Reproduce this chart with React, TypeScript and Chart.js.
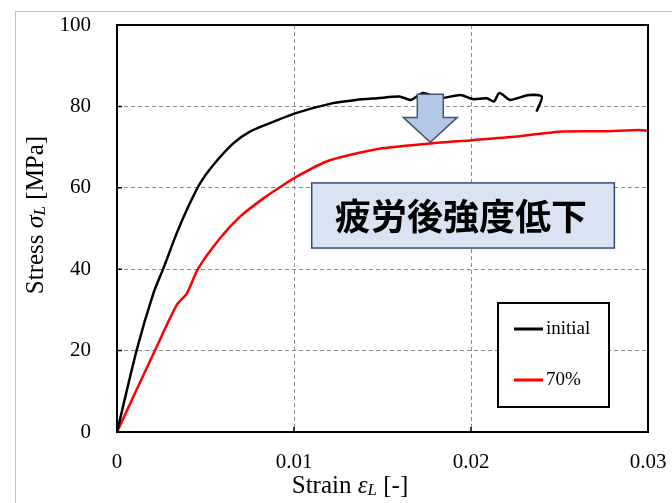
import React, { useEffect, useRef } from "react";
import { Chart, registerables } from "chart.js";

Chart.register(...registerables);

const initialStrain = [0, 0.00111, 0.00205, 0.00262, 0.00337, 0.00403, 0.00469, 0.00544, 0.00657, 0.00751, 0.00883, 0.01006, 0.0122, 0.0135, 0.0147, 0.016, 0.0166, 0.0173, 0.0182, 0.0194, 0.0201, 0.0209, 0.0213, 0.0216, 0.0222, 0.0226, 0.0233, 0.024, 0.0237];
const initialStress = [0, 20.1, 34, 40.2, 48.8, 55.4, 61.1, 65.6, 70.9, 73.8, 76.2, 78.3, 80.8, 81.6, 82, 82.4, 81.6, 83.3, 82, 82.8, 81.8, 82, 81.2, 83.3, 81.6, 82, 82.8, 82.4, 78.7];

const fatigueStrain = [0, 0.00215, 0.00337, 0.00394, 0.00459, 0.00582, 0.00695, 0.00827, 0.0094, 0.0103, 0.0118, 0.0132, 0.015, 0.0177, 0.0201, 0.0226, 0.025, 0.0275, 0.0295, 0.03];
const fatigueStress = [0, 20.1, 31.2, 34, 40.2, 47.6, 52.9, 57.4, 60.7, 63.1, 66.4, 68.1, 69.7, 70.9, 71.7, 72.6, 73.8, 73.9, 74.2, 74];

const seriesNames = ["initial", "70%"];
const seriesColors = ["#000000", "#ff0000"];
const xTickValues = [0, 0.01, 0.02, 0.03];
const yTickValues = [0, 20, 40, 60, 80, 100];
const annotationText = "疲労後強度低下";
const arrowStrain = 0.0177;

const SERIF = '"Liberation Serif", "Times New Roman", serif';

function drawRich(ctx: CanvasRenderingContext2D, parts: { t: string; f: string; dy: number }[], cx: number, cy: number) {
  let total = 0;
  for (const p of parts) {
    ctx.font = p.f;
    total += ctx.measureText(p.t).width;
  }
  let x = cx - total / 2;
  ctx.textBaseline = "middle";
  ctx.textAlign = "left";
  for (const p of parts) {
    ctx.font = p.f;
    ctx.fillText(p.t, x, cy + p.dy);
    x += ctx.measureText(p.t).width;
  }
}

const decorPlugin = {
  id: "decor",
  beforeDraw(chart: any) {
    const ctx = chart.ctx;
    ctx.save();
    ctx.fillStyle = "#ffffff";
    ctx.fillRect(0, 0, chart.width, chart.height);
    ctx.strokeStyle = "#bfbfbf";
    ctx.lineWidth = 1;
    ctx.strokeRect(15.5, 11.5, chart.width + 20, chart.height + 20);
    ctx.restore();
  },
  afterDatasetsDraw(chart: any) {
    const ctx = chart.ctx;
    const a = chart.chartArea;
    const xs = chart.scales.x;
    const ys = chart.scales.y;
    ctx.save();
    // plot border
    ctx.strokeStyle = "#000";
    ctx.lineWidth = 2;
    ctx.strokeRect(a.left, a.top, a.right - a.left, a.bottom - a.top);
    // inside ticks
    ctx.lineWidth = 1.5;
    ctx.beginPath();
    for (const v of xTickValues) {
      const px = xs.getPixelForValue(v);
      ctx.moveTo(px, a.bottom);
      ctx.lineTo(px, a.bottom - 5);
    }
    for (const v of yTickValues) {
      const py = ys.getPixelForValue(v);
      ctx.moveTo(a.left, py);
      ctx.lineTo(a.left + 5, py);
    }
    ctx.stroke();

    // arrow
    const ax = xs.getPixelForValue(arrowStrain);
    const top = ys.getPixelForValue(83);
    const headY = ys.getPixelForValue(77.3);
    const tip = ys.getPixelForValue(71.2);
    ctx.beginPath();
    ctx.moveTo(ax - 13, top);
    ctx.lineTo(ax + 13, top);
    ctx.lineTo(ax + 13, headY);
    ctx.lineTo(ax + 27, headY);
    ctx.lineTo(ax, tip);
    ctx.lineTo(ax - 27, headY);
    ctx.lineTo(ax - 13, headY);
    ctx.closePath();
    ctx.fillStyle = "#b4c7e7";
    ctx.fill();
    ctx.strokeStyle = "#44546a";
    ctx.lineWidth = 1.5;
    ctx.stroke();

    // annotation box
    const bx1 = xs.getPixelForValue(0.011);
    const bx2 = xs.getPixelForValue(0.0281);
    const by1 = ys.getPixelForValue(61.2);
    const by2 = ys.getPixelForValue(45.2);
    ctx.fillStyle = "#dae3f3";
    ctx.fillRect(bx1, by1, bx2 - bx1, by2 - by1);
    ctx.strokeStyle = "#2f4b7c";
    ctx.lineWidth = 1.5;
    ctx.strokeRect(bx1, by1, bx2 - bx1, by2 - by1);
    ctx.fillStyle = "#000";
    ctx.font = 'bold 36px "Noto Sans CJK JP", sans-serif';
    ctx.textAlign = "center";
    ctx.textBaseline = "middle";
    ctx.fillText(annotationText, (bx1 + bx2) / 2 - 2, (by1 + by2) / 2 + 1);

    // legend
    const lx1 = 498, ly1 = 303, lx2 = 609, ly2 = 407;
    ctx.fillStyle = "#fff";
    ctx.fillRect(lx1, ly1, lx2 - lx1, ly2 - ly1);
    ctx.strokeStyle = "#000";
    ctx.lineWidth = 2;
    ctx.strokeRect(lx1, ly1, lx2 - lx1, ly2 - ly1);
    const rows = [329, 380];
    seriesNames.forEach((name, i) => {
      ctx.strokeStyle = seriesColors[i];
      ctx.lineWidth = 3;
      ctx.beginPath();
      ctx.moveTo(514, rows[i]);
      ctx.lineTo(543, rows[i]);
      ctx.stroke();
      ctx.fillStyle = "#000";
      ctx.font = `19px ${SERIF}`;
      ctx.textAlign = "left";
      ctx.textBaseline = "middle";
      ctx.fillText(name, 546, rows[i]);
    });

    // axis titles
    ctx.fillStyle = "#000";
    drawRich(ctx, [
      { t: "Strain ", f: `25px ${SERIF}`, dy: 0 },
      { t: "ε", f: `italic 25px ${SERIF}`, dy: 0 },
      { t: "L", f: `italic 17px ${SERIF}`, dy: 5 },
      { t: " [-]", f: `25px ${SERIF}`, dy: 0 },
    ], 350, 486);
    ctx.save();
    ctx.translate(36, 215);
    ctx.rotate(-Math.PI / 2);
    drawRich(ctx, [
      { t: "Stress ", f: `25px ${SERIF}`, dy: 0 },
      { t: "σ", f: `italic 26px ${SERIF}`, dy: 0 },
      { t: "L", f: `italic 17px ${SERIF}`, dy: 5 },
      { t: " [MPa]", f: `25px ${SERIF}`, dy: 0 },
    ], 0, 0);
    ctx.restore();
    ctx.restore();
  },
};

export default function App() {
  const ref = useRef<HTMLCanvasElement>(null);
  useEffect(() => {
    document.body.style.margin = "0";
    const canvas = ref.current!;
    const chart = new Chart(canvas, {
      type: "scatter",
      data: {
        datasets: [
          {
            label: seriesNames[0],
            data: initialStrain.map((x, i) => ({ x, y: initialStress[i] })),
            showLine: true,
            borderColor: seriesColors[0],
            borderWidth: 2.5,
            pointRadius: 0,
            tension: 0.25,
          },
          {
            label: seriesNames[1],
            data: fatigueStrain.map((x, i) => ({ x, y: fatigueStress[i] })),
            showLine: true,
            borderColor: seriesColors[1],
            borderWidth: 2.5,
            pointRadius: 0,
            tension: 0.25,
          },
        ],
      },
      options: {
        responsive: false,
        animation: false,
        layout: { padding: { left: 0, right: 24, top: 25, bottom: 0 } },
        plugins: { legend: { display: false }, tooltip: { enabled: false } },
        scales: {
          x: {
            type: "linear",
            min: 0,
            max: 0.03,
            afterFit: (s: any) => {
              s.height = 71;
              s.paddingLeft = 0;
              s.paddingRight = 0;
            },
            afterBuildTicks: (s: any) => { s.ticks = xTickValues.map((v) => ({ value: v })); },
            border: { display: false, dash: [4, 3] },
            grid: { color: "#8c8c8c", lineWidth: 1, drawTicks: false },
            ticks: {
              autoSkip: false,
              maxRotation: 0,
              padding: 18,
              color: "#000",
              font: { family: SERIF, size: 21 },
              callback: (v: any) => String(parseFloat(Number(v).toFixed(4))),
            },
          },
          y: {
            type: "linear",
            min: 0,
            max: 100,
            afterFit: (s: any) => {
              s.width = 117;
              s.paddingTop = 0;
              s.paddingBottom = 0;
            },
            afterBuildTicks: (s: any) => { s.ticks = yTickValues.map((v) => ({ value: v })); },
            border: { display: false, dash: [4, 3] },
            grid: { color: "#8c8c8c", lineWidth: 1, drawTicks: false },
            ticks: {
              padding: 26,
              color: "#000",
              font: { family: SERIF, size: 21 },
            },
          },
        },
      },
      plugins: [decorPlugin],
    } as any);
    return () => chart.destroy();
  }, []);
  return (
    <div style={{ width: 672, height: 503 }}>
      <canvas ref={ref} width={672} height={503} style={{ display: "block" }} />
    </div>
  );
}
